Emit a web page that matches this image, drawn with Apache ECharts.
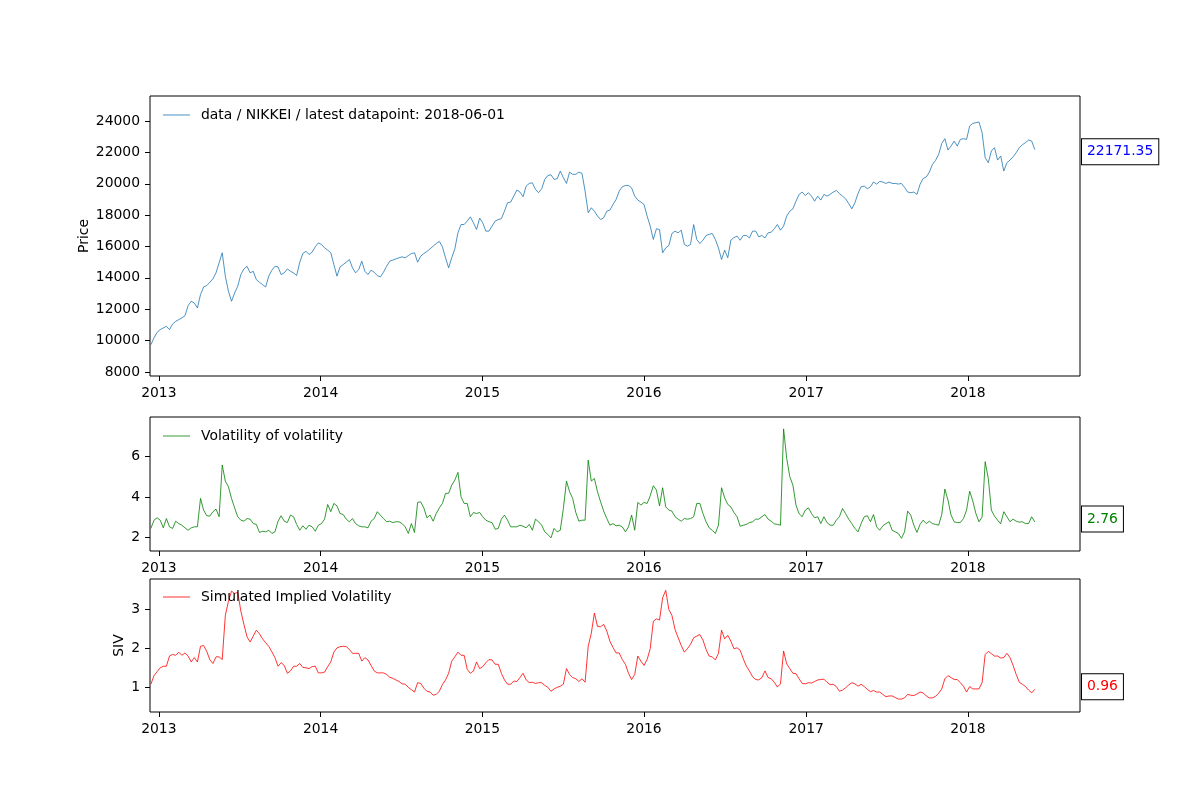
<!DOCTYPE html>
<html>
<head>
<meta charset="utf-8">
<script src="https://cdn.jsdelivr.net/npm/echarts@6/dist/echarts.min.js"></script>
<style>html,body{margin:0;padding:0;background:#fff}#c{width:1200px;height:800px}</style>
</head>
<body>
<div id="c"></div>
<script>
// ---- data (weekly samples, first point 2012-12-14, last 2018-06-01) ----
const startDate = [2012, 11, 14];
const stepDays = 7;
const xRange = ['2012-12-12', '2018-09-11'];
const yearTicks = [2013, 2014, 2015, 2016, 2017, 2018];
const priceTicks = [8000, 10000, 12000, 14000, 16000, 18000, 20000, 22000, 24000];
const vovTicks = [2, 4, 6];
const sivTicks = [1, 2, 3];
const seriesNames = ['data / NIKKEI / latest datapoint: 2018-06-01', 'Volatility of volatility', 'Simulated Implied Volatility'];
const latestLabels = ['22171.35', '2.76', '0.96'];

const price = [
  9742, 10170, 10530, 10700, 10810, 10910, 10700, 11060, 11230, 11340,
  11450, 11590, 12230, 12510, 12400, 12080, 12940, 13420, 13510, 13720,
  13940, 14320, 14960, 15600, 14110, 13150, 12510, 13040, 13470, 14210,
  14570, 14740, 14320, 14420, 13890, 13720, 13570, 13420, 14110, 14490,
  14740, 14700, 14210, 14320, 14570, 14420, 14320, 14150, 15000, 15550,
  15700, 15490, 15640, 15980, 16230, 16130, 15910, 15770, 15600, 14850,
  14110, 14700, 14850, 15000, 15170, 14640, 14320, 14530, 15060, 14420,
  14210, 14490, 14360, 14150, 14060, 14360, 14740, 15060, 15130, 15210,
  15280, 15340, 15280, 15420, 15550, 15600, 15000, 15380, 15550, 15680,
  15850, 16020, 16190, 16320, 15980, 15280, 14640, 15280, 15850, 16870,
  17400, 17400, 17620, 17890, 17510, 17080, 17810, 17510, 16980, 16980,
  17300, 17620, 17720, 17770, 18250, 18790, 18830, 19210, 19600, 19470,
  19170, 19850, 20020, 20060, 19640, 19430, 19680, 20280, 20530, 20570,
  20280, 20320, 20810, 20380, 20020, 20740, 20600, 20600, 20740, 20660,
  19530, 18150, 18470, 18250, 17940, 17720, 17830, 18250, 18320, 18680,
  19000, 19530, 19810, 19890, 19890, 19740, 19210, 18960, 18830, 18680,
  17940, 17300, 16450, 17130, 17080, 15600, 15910, 16060, 16830, 16980,
  16870, 17040, 16130, 16020, 16130, 17400, 16450, 16190, 16400, 16700,
  16770, 16830, 16450, 15910, 15170, 15770, 15280, 16400, 16570, 16660,
  16400, 16700, 16700, 16550, 16980, 16980, 16620, 16700, 16550, 16870,
  16910, 17130, 17400, 17040, 17300, 17940, 18250, 18400, 18890, 19320,
  19470, 19250, 19430, 19210, 18890, 19210, 18960, 19320, 19210, 19320,
  19470, 19570, 19380, 19210, 19040, 18740, 18400, 18790, 19380, 19810,
  19850, 19680, 19810, 20110, 19980, 20150, 20110, 20020, 20110, 20020,
  20020, 19980, 20020, 19770, 19470, 19430, 19470, 19320, 19960, 20340,
  20430, 20740, 21230, 21490, 21870, 22570, 22870, 22150, 22400, 22720,
  22400, 22830, 22870, 22830, 23680, 23850, 23890, 23940, 23260, 21660,
  21340, 22090, 22300, 21510, 21770, 20810, 21340, 21510, 21720, 21980,
  22300, 22490, 22620, 22790, 22720, 22171.35
];

const vov = [
  2.44, 2.85, 2.97, 2.85, 2.47, 2.93, 2.52, 2.44, 2.80, 2.68,
  2.60, 2.47, 2.35, 2.47, 2.52, 2.52, 3.93, 3.35, 3.07, 3.05,
  3.27, 3.40, 3.02, 5.59, 4.79, 4.51, 3.93, 3.46, 3.02, 2.85,
  2.80, 2.93, 2.90, 2.68, 2.64, 2.24, 2.30, 2.27, 2.35, 2.19,
  2.27, 2.80, 3.07, 2.80, 2.73, 3.10, 3.02, 2.64, 2.35, 2.57,
  2.40, 2.60, 2.52, 2.30, 2.60, 2.68, 2.90, 3.63, 3.27, 3.68,
  3.56, 3.18, 3.13, 2.90, 2.77, 2.93, 2.68, 2.57, 2.52, 2.52,
  2.47, 2.80, 2.93, 3.27, 3.10, 2.93, 2.77, 2.80, 2.73, 2.77,
  2.77, 2.68, 2.52, 2.19, 2.68, 2.24, 3.73, 3.76, 3.46, 2.97,
  3.10, 2.80, 3.18, 3.46, 3.68, 4.18, 4.18, 4.59, 4.84, 5.22,
  4.01, 3.68, 3.68, 3.02, 3.23, 3.18, 3.23, 3.02, 2.85, 2.77,
  2.73, 2.40, 2.44, 2.90, 3.10, 2.85, 2.52, 2.52, 2.52, 2.60,
  2.55, 2.47, 2.64, 2.35, 2.90, 2.77, 2.60, 2.27, 2.14, 1.97,
  2.44, 2.27, 2.35, 3.43, 4.79, 4.26, 3.93, 3.23, 2.80, 2.85,
  2.85, 5.83, 4.79, 4.92, 4.26, 3.76, 3.30, 2.93, 2.60, 2.68,
  2.57, 2.60, 2.52, 2.27, 2.52, 3.10, 2.35, 3.73, 3.60, 3.73,
  3.68, 4.06, 4.56, 4.34, 3.56, 4.46, 3.51, 3.35, 3.30, 3.02,
  2.90, 2.80, 2.93, 2.90, 2.93, 3.02, 3.68, 3.68, 3.18, 2.77,
  2.47, 2.35, 2.19, 2.60, 4.46, 3.96, 3.63, 3.51, 3.23, 3.02,
  2.55, 2.60, 2.64, 2.73, 2.77, 2.90, 2.90, 3.02, 3.13, 2.90,
  2.80, 2.67, 2.64, 2.60, 7.38, 5.92, 5.01, 4.59, 3.60, 3.17,
  3.02, 3.35, 3.46, 3.18, 2.97, 3.02, 2.68, 3.02, 2.73, 2.60,
  2.60, 2.85, 3.02, 3.43, 3.17, 2.90, 2.68, 2.44, 2.27, 2.68,
  3.02, 3.07, 2.77, 3.13, 2.52, 2.35, 2.57, 2.68, 2.77, 2.35,
  2.27, 2.19, 1.95, 2.27, 3.30, 3.10, 2.60, 2.24, 2.64, 2.85,
  2.68, 2.80, 2.68, 2.64, 2.60, 3.13, 4.39, 3.85, 3.10, 2.77,
  2.73, 2.73, 2.93, 3.35, 4.29, 3.80, 3.18, 2.77, 3.00, 5.75,
  4.92, 3.35, 3.05, 2.85, 2.67, 3.27, 3.02, 2.77, 2.90, 2.80,
  2.75, 2.77, 2.68, 2.68, 3.02, 2.76
];

const siv = [
  1.09, 1.31, 1.41, 1.51, 1.55, 1.55, 1.81, 1.85, 1.83, 1.91,
  1.83, 1.89, 1.81, 1.66, 1.77, 1.66, 2.06, 2.08, 1.93, 1.72,
  1.62, 1.79, 1.79, 1.72, 2.85, 3.21, 3.47, 3.41, 3.44, 2.96,
  2.62, 2.30, 2.17, 2.32, 2.47, 2.38, 2.25, 2.15, 2.06, 1.92,
  1.77, 1.55, 1.64, 1.57, 1.37, 1.43, 1.55, 1.55, 1.62, 1.52,
  1.51, 1.49, 1.54, 1.55, 1.38, 1.38, 1.40, 1.54, 1.66, 1.91,
  2.02, 2.05, 2.06, 2.05, 1.98, 1.88, 1.88, 1.88, 1.68, 1.77,
  1.71, 1.57, 1.43, 1.38, 1.38, 1.38, 1.34, 1.27, 1.24, 1.20,
  1.16, 1.10, 1.09, 1.01, 0.95, 0.89, 1.13, 1.11, 0.99, 0.91,
  0.89, 0.81, 0.83, 0.91, 1.08, 1.20, 1.37, 1.68, 1.79, 1.91,
  1.83, 1.83, 1.47, 1.37, 1.43, 1.66, 1.49, 1.54, 1.64, 1.72,
  1.71, 1.60, 1.60, 1.37, 1.20, 1.09, 1.09, 1.17, 1.16, 1.26,
  1.37, 1.20, 1.13, 1.14, 1.11, 1.13, 1.13, 1.06, 1.01, 0.91,
  0.97, 1.01, 1.04, 1.09, 1.49, 1.34, 1.26, 1.23, 1.16, 1.23,
  1.14, 2.06, 2.39, 2.91, 2.57, 2.56, 2.62, 2.45, 2.19, 2.03,
  1.89, 1.89, 1.72, 1.60, 1.37, 1.21, 1.34, 1.81, 1.68, 1.57,
  1.72, 2.00, 2.70, 2.76, 2.73, 3.30, 3.49, 3.00, 2.85, 2.49,
  2.28, 2.08, 1.91, 2.00, 2.11, 2.28, 2.32, 2.36, 2.22, 1.98,
  1.81, 1.79, 1.71, 1.88, 2.47, 2.25, 2.34, 2.19, 2.00, 2.02,
  1.96, 1.74, 1.55, 1.43, 1.28, 1.21, 1.20, 1.26, 1.43, 1.26,
  1.23, 1.14, 1.02, 1.10, 1.94, 1.61, 1.49, 1.37, 1.36, 1.23,
  1.11, 1.10, 1.13, 1.12, 1.16, 1.20, 1.21, 1.22, 1.14, 1.08,
  1.09, 1.03, 0.91, 0.94, 1.00, 1.07, 1.13, 1.10, 1.04, 1.09,
  1.03, 0.96, 0.90, 0.93, 0.89, 0.89, 0.83, 0.77, 0.79, 0.79,
  0.75, 0.71, 0.71, 0.74, 0.83, 0.81, 0.80, 0.84, 0.89, 0.87,
  0.79, 0.74, 0.74, 0.78, 0.86, 0.97, 1.23, 1.31, 1.26, 1.21,
  1.21, 1.13, 1.04, 0.89, 1.03, 0.97, 0.97, 0.97, 1.13, 1.85,
  1.93, 1.87, 1.81, 1.81, 1.76, 1.77, 1.88, 1.77, 1.57, 1.34,
  1.14, 1.09, 1.03, 0.94, 0.87, 0.96
];

// ---- chart ----
const DAY = 86400000;
const t0 = Date.UTC(startDate[0], startDate[1], startDate[2]);
const dates = price.map((_, i) => t0 + i * stepDays * DAY);
const toTs = s => { const p = s.split('-').map(Number); return Date.UTC(p[0], p[1] - 1, p[2]); };
const yearTs = yearTicks.map(y => Date.UTC(y, 0, 1));

const FONT = '"DejaVu Sans", sans-serif';
const FS = 13.9;
const colors = ['#1f77b4', '#008000', '#ff0000'];
const boxColors = ['#0000ff', '#008000', '#ff0000'];

const grids = [
  { left: 150, top: 96, width: 930, height: 280 },
  { left: 150, top: 417, width: 930, height: 134 },
  { left: 150, top: 579, width: 930, height: 133 }
];
const yRanges = [[7745, 25594], [1.32, 7.97], [0.38, 3.78]];
const yTicks = [priceTicks, vovTicks, sivTicks];
const yNames = ['Price', '', 'SIV'];
const yNameGaps = [59, 30, 24];
const legendTops = [108, 429, 590];
const boxShift = [2, -3, -2.5];
const values = [price, vov, siv];

const chart = echarts.init(document.getElementById('c'), null, { renderer: 'canvas' });

const tickStyle = { show: true, length: 5, inside: false, lineStyle: { color: '#000', width: 1 } };
const LINE_ICON = 'path://M0,0H27V0.8H0Z';

const option = {
  animation: false,
  backgroundColor: '#fff',
  grid: grids.map(g => Object.assign({ show: true, borderColor: '#000', borderWidth: 1, backgroundColor: 'transparent', containLabel: false }, g)),
  legend: seriesNames.map((n, k) => ({
    data: [{ name: n, icon: LINE_ICON }], left: 163, top: legendTops[k], orient: 'horizontal',
    padding: 0, itemWidth: 27, itemHeight: 14, selectedMode: false,
    textStyle: { fontFamily: FONT, fontSize: FS, color: '#000', padding: [0, 0, 0, 6] }
  })),
  xAxis: grids.map((g, k) => ({
    type: 'value', gridIndex: k, min: toTs(xRange[0]), max: toTs(xRange[1]),
    axisLine: { show: false, onZero: false },
    splitLine: { show: false },
    axisTick: Object.assign({ customValues: yearTs }, tickStyle),
    axisLabel: {
      customValues: yearTs, margin: 10, color: '#000', fontFamily: FONT, fontSize: FS,
      formatter: v => String(new Date(v + 12 * 3600000).getUTCFullYear())
    }
  })),
  yAxis: grids.map((g, k) => ({
    type: 'value', gridIndex: k, min: yRanges[k][0], max: yRanges[k][1],
    name: yNames[k], nameLocation: 'middle', nameGap: yNameGaps[k], nameMoveOverlap: false,
    nameTextStyle: { fontFamily: FONT, fontSize: FS, color: '#000' },
    axisLine: { show: false, onZero: false },
    splitLine: { show: false },
    axisTick: Object.assign({ customValues: yTicks[k] }, tickStyle),
    axisLabel: { customValues: yTicks[k], margin: 10, color: '#000', fontFamily: FONT, fontSize: FS,
      formatter: v => String(v) }
  })),
  series: seriesNames.map((n, k) => ({
    name: n, type: 'line', xAxisIndex: k, yAxisIndex: k,
    data: dates.map((d, i) => [d, values[k][i]]),
    symbol: 'none', showSymbol: false, smooth: false,
    lineStyle: { color: colors[k], width: 0.8 },
    itemStyle: { color: colors[k] },
    emphasis: { disabled: true },
    silent: true
  }))
};
chart.setOption(option);

// latest-value boxes at the right of each panel
const graphics = seriesNames.map((n, k) => {
  const last = values[k].length - 1;
  const pt = chart.convertToPixel({ seriesIndex: k }, [dates[last], values[k][last]]);
  return {
    type: 'text', x: grids[k].left + grids[k].width + 2, y: pt[1] + boxShift[k],
    style: {
      text: latestLabels[k], fill: boxColors[k], font: FS + 'px ' + FONT,
      align: 'left', verticalAlign: 'middle',
      backgroundColor: '#fff', borderColor: '#000', borderWidth: 1, padding: [6, 5, 5, 5]
    }
  };
});
chart.setOption({ graphic: graphics });
</script>
</body>
</html>
